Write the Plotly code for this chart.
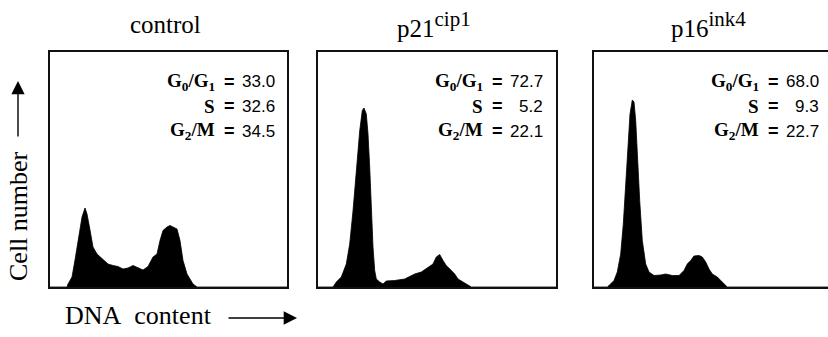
import plotly.graph_objects as go

# ---- data (DNA content channel vs. cell number, arbitrary units) ----
control_x = [0, 17, 18, 22, 25, 28, 32, 35, 37, 40, 43, 47, 50, 53, 58, 63, 68, 73, 78, 83, 88, 93,
             98, 103, 107, 110, 113, 117, 120, 123, 127, 130, 133, 137, 140, 143, 147, 237]
control_y = [0, 0, 3, 10, 27, 47, 70, 79, 73, 57, 40, 33, 30, 27, 23, 21.5, 20.5, 18, 19, 21.5, 19, 17,
             20.5, 30, 33, 46.5, 56.5, 60, 61.5, 60, 58, 46.5, 26.5, 13, 8, 3, 0, 0]

p21_x = [0, 15, 18.3, 23.3, 28.3, 31.7, 35, 38.3, 41.7, 44.3, 46, 48.3, 50, 51.7, 53.3, 55, 56.7, 58.3,
         61.7, 65, 68.3, 76.7, 86.7, 96.7, 103.3, 110, 115, 118.3, 121.7, 125, 128.3, 133.3, 136.7,
         140, 145, 150, 153.3, 238]
p21_y = [0, 0, 5, 10, 23, 43, 76, 120, 156, 176.5, 179, 173, 153, 120, 76, 40, 16.5, 8,
         5, 3, 6, 6.5, 8, 13, 15, 20, 23, 30, 32.5, 26.5, 21.5, 16.5, 13, 8, 5, 2, 0, 0]

p16_x = [0, 13.3, 15, 20, 23.3, 26.7, 29.3, 31.7, 34, 36, 38.3, 40, 41.7, 43.3, 45.7, 48.3, 51.7, 55,
         60, 66.7, 71.7, 78.3, 85, 90, 93.3, 96.7, 100, 105, 108.3, 111.7, 115, 118.3, 123.3, 126.7,
         130, 133.3, 234]
p16_y = [0, 0, 1.5, 6.5, 15, 33, 63, 103, 143, 173, 187, 185, 166.5, 130, 86.5, 46.5, 23, 15,
         11.5, 12, 13, 11.5, 11.5, 16.5, 23, 26.5, 31, 31.5, 30, 25, 18, 13, 10, 6.5, 3, 0, 0]

titles = ["control",
          "p21<sup><span style='font-size:21px'>cip1</span></sup>",
          "p16<sup><span style='font-size:21px'>ink4</span></sup>"]
phase_labels = ["<b>G<sub>0</sub>/G<sub>1</sub></b>", "<b>S</b>", "<b>G<sub>2</sub>/M</b>"]
phase_values = [["33.0", "32.6", "34.5"], ["72.7", "5.2", "22.1"], ["68.0", "9.3", "22.7"]]
x_label = "DNA&nbsp;&nbsp;content"
y_label = "Cell number"

series = [(control_x, control_y), (p21_x, p21_y), (p16_x, p16_y)]

# ---- layout geometry (pixels) ----
W, H = 828, 337
panels_px = [(50, 287), (318, 556), (594, 828)]
top_px, bot_px = 52, 287
SERIF = "Liberation Serif"
SANS = "Liberation Sans"

def px(x):
    return x / W

def py(y):
    return 1 - y / H

fig = go.Figure()
annotations = []
for i, ((x0, x1), (xs, ys)) in enumerate(zip(panels_px, series)):
    n = "" if i == 0 else str(i + 1)
    xa = "x" + n
    ya = "y" + n
    fig.add_trace(go.Scatter(x=xs, y=ys, mode="lines", fill="tozeroy",
                             fillcolor="black", line=dict(color="black", width=0.8),
                             xaxis=xa, yaxis=ya, hoverinfo="skip", showlegend=False))
    fig.update_layout(**{
        "xaxis" + n: dict(domain=[px(x0), px(x1)], range=[0, x1 - x0], showgrid=False,
                          zeroline=False, showticklabels=False, ticks="",
                          showline=True, linecolor="#111", linewidth=1.5, mirror=True,
                          anchor=ya),
        "yaxis" + n: dict(domain=[py(bot_px), py(top_px)], range=[0, bot_px - top_px],
                          showgrid=False, zeroline=False, showticklabels=False, ticks="",
                          showline=True, linecolor="#111", linewidth=1.5,
                          mirror=(i < 2), anchor=xa),
    })
    # title
    annotations.append(dict(text=titles[i], xref="paper", yref="paper",
                            x=px((x0 + x1) / 2 - 3), y=py(24), xanchor="center", yanchor="middle",
                            showarrow=False, font=dict(family=SERIF, size=25, color="black")))
    # phase percentages
    for r, (lab, val) in enumerate(zip(phase_labels, phase_values[i])):
        yc = 82 + r * 24.5
        annotations.append(dict(text=lab, xref="paper", yref="paper",
                                x=px(x0 + 167), y=py(yc), xanchor="right", yanchor="middle",
                                showarrow=False, font=dict(family=SERIF, size=19, color="black")))
        annotations.append(dict(text="<b>=</b>", xref="paper", yref="paper",
                                x=px(x0 + 179), y=py(yc), xanchor="center", yanchor="middle",
                                showarrow=False, font=dict(family=SANS, size=18, color="black")))
        annotations.append(dict(text=val, xref="paper", yref="paper",
                                x=px(x0 + 227), y=py(yc), xanchor="right", yanchor="middle",
                                showarrow=False, font=dict(family=SANS, size=17, color="black")))

# axis labels
annotations.append(dict(text=x_label, xref="paper", yref="paper", x=px(138.5), y=py(315),
                        xanchor="center", yanchor="middle", showarrow=False,
                        font=dict(family=SERIF, size=26, color="black")))
annotations.append(dict(text="", xref="paper", yref="paper", x=px(297), y=py(318),
                        ax=-70, ay=0, showarrow=True, arrowhead=2, arrowsize=1.9,
                        arrowwidth=1.4, arrowcolor="black"))
annotations.append(dict(text=y_label, xref="paper", yref="paper", x=px(18), y=py(216),
                        xanchor="center", yanchor="middle", textangle=-90, showarrow=False,
                        font=dict(family=SERIF, size=26, color="black")))
annotations.append(dict(text="", xref="paper", yref="paper", x=px(18), y=py(81),
                        ax=0, ay=57, showarrow=True, arrowhead=2, arrowsize=1.9,
                        arrowwidth=1.4, arrowcolor="black"))

fig.update_layout(width=W, height=H, margin=dict(l=0, r=0, t=0, b=0),
                  paper_bgcolor="white", plot_bgcolor="white",
                  annotations=annotations)
fig.write_html("out.html")
